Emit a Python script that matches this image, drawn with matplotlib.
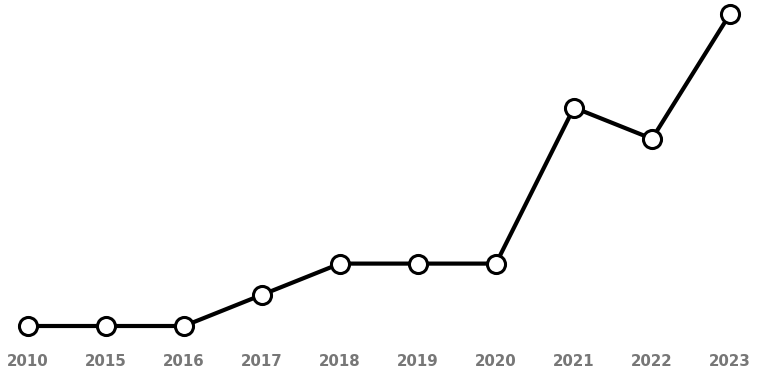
import matplotlib
matplotlib.use("Agg")
import matplotlib.pyplot as plt

years = ["2010", "2015", "2016", "2017", "2018", "2019", "2020", "2021", "2022", "2023"]
values = [0, 0, 0, 1, 2, 2, 2, 7, 6, 10]

fig = plt.figure(figsize=(7.6, 3.8), dpi=100)
ax = fig.add_axes([0, 40 / 380, 1, 340 / 380])
x = list(range(len(years)))
ax.plot(x, values, color="black", lw=3.0, marker="o", markersize=13,
        markerfacecolor="white", markeredgecolor="black", markeredgewidth=2.2,
        solid_capstyle="round", zorder=3, clip_on=False)
ax.set_xlim(-28 / 78, (760 - 28) / 78)
ax.set_ylim((326 - 340) / 31.2, 326 / 31.2)
ax.set_xticks(x)
ax.set_xticklabels(years, fontfamily="DejaVu Sans", fontweight="bold", fontsize=10.8, color="#777777")
ax.tick_params(axis="x", length=0, pad=10)
ax.set_yticks([])
for s in ax.spines.values():
    s.set_visible(False)
ax.patch.set_alpha(0)
fig.savefig("out.png", dpi=100)
